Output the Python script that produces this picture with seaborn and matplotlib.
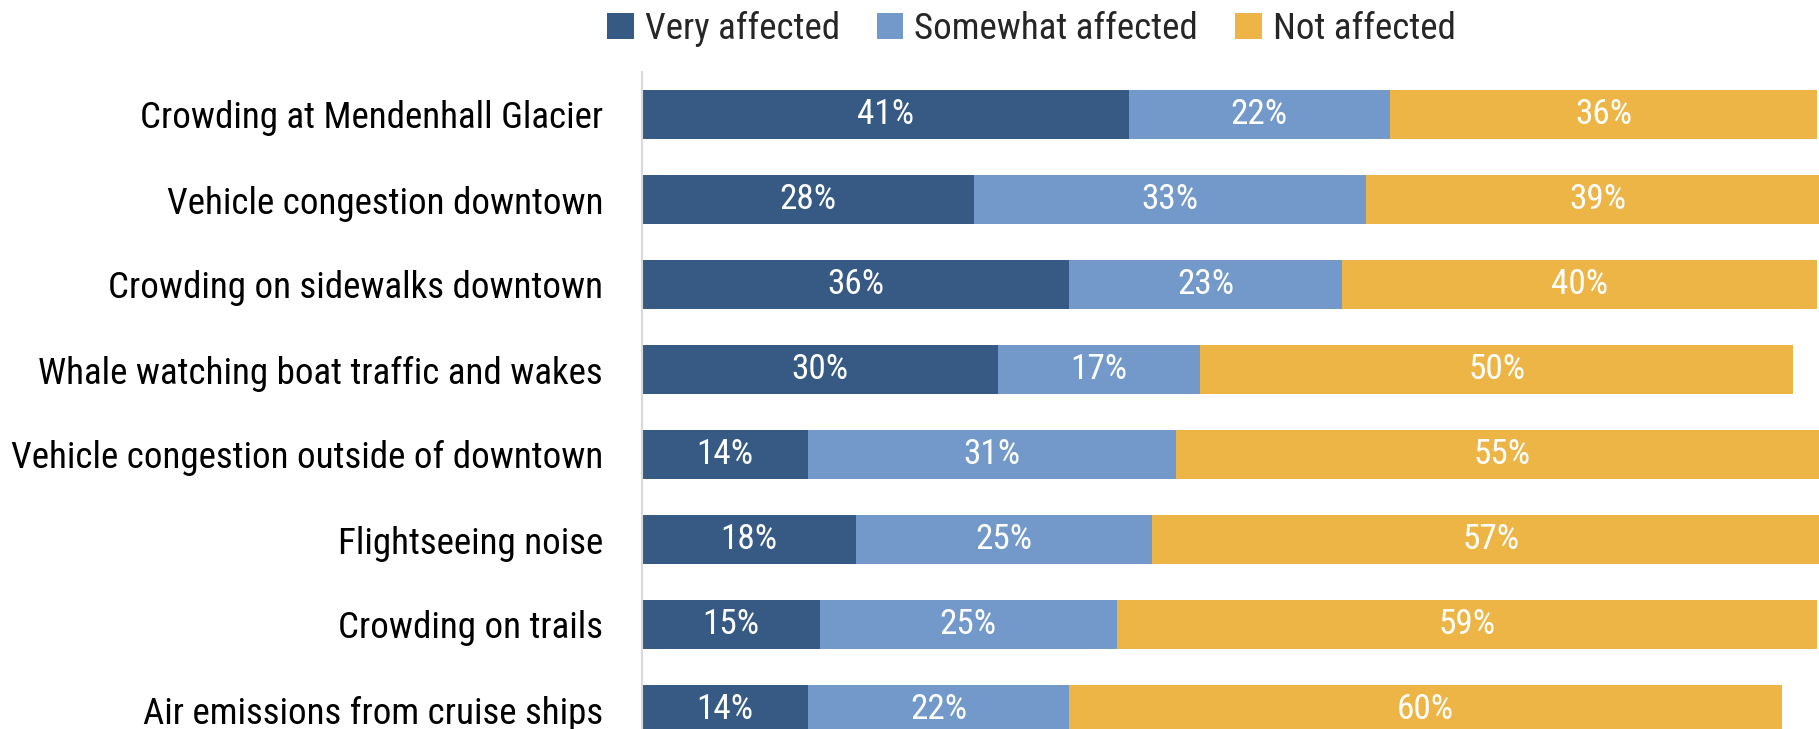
import matplotlib
matplotlib.use("Agg")
import matplotlib.pyplot as plt
from matplotlib import font_manager as fm
from matplotlib.patches import Patch
import seaborn as sns
import pandas as pd
import numpy as np

categories = [
    "Crowding at Mendenhall Glacier",
    "Vehicle congestion downtown",
    "Crowding on sidewalks downtown",
    "Whale watching boat traffic and wakes",
    "Vehicle congestion outside of downtown",
    "Flightseeing noise",
    "Crowding on trails",
    "Air emissions from cruise ships",
]
very_affected = [41, 28, 36, 30, 14, 18, 15, 14]
somewhat_affected = [22, 33, 23, 17, 31, 25, 25, 22]
not_affected = [36, 39, 40, 50, 55, 57, 59, 60]
series_names = ["Very affected", "Somewhat affected", "Not affected"]
colors = ["#375A85", "#7299C9", "#EDB446"]

sns.set_theme(style="white")

# ---- pick a condensed font if one is installed ----
def pick_font():
    prefer = ["Roboto Condensed", "Liberation Sans Narrow", "DejaVu Sans Condensed",
              "Open Sans Condensed", "Noto Sans Condensed", "Lato"]
    entries = fm.fontManager.ttflist
    for name in prefer:
        for f in entries:
            if f.name == name and f.style == "normal" and f.weight in (400, "normal", "regular"):
                return fm.FontProperties(fname=f.fname)
    for f in entries:
        if str(f.stretch) in ("condensed", "semi-condensed", "extra-condensed") and f.style == "normal" \
                and f.weight in (400, "normal", "regular"):
            return fm.FontProperties(fname=f.fname)
    for f in entries:
        if ("Condensed" in f.fname or "Narrow" in f.fname) and "Bold" not in f.fname and "Italic" not in f.fname \
                and "Light" not in f.fname and "Oblique" not in f.fname:
            return fm.FontProperties(fname=f.fname)
    return fm.FontProperties(family="DejaVu Sans")

base_fp = pick_font()

W, H = 1819, 729
fig = plt.figure(figsize=(W / 100, H / 100), dpi=100)
fig.patch.set_facecolor("white")

# adaptive font sizes to match text widths seen in the reference
renderer = fig.canvas.get_renderer()

def width_at(text, size):
    fp = base_fp.copy()
    fp.set_size(size)
    t = fig.text(0, 0, text, fontproperties=fp)
    w = t.get_window_extent(renderer).width
    t.remove()
    return w

tick_size = min(28.0, 28.0 * 591.0 / width_at(categories[4], 28))
label_size = min(27.0, 23.0 * 57.0 / width_at("41%", 23))

tick_fp = base_fp.copy(); tick_fp.set_size(tick_size)
bar_fp = base_fp.copy(); bar_fp.set_size(label_size)

ax_left = 642 / W
ax_width = 100 * 11.87 / W
ax_top = 1 - 72 / H
ax_height = 8 * 85 / H
ax = fig.add_axes([ax_left, ax_top - ax_height, ax_width, ax_height])

df = pd.DataFrame({
    "category": categories,
    "v": very_affected,
    "s": somewhat_affected,
    "n": not_affected,
})
df["c1"] = df["v"]
df["c2"] = df["v"] + df["s"]
df["c3"] = df["v"] + df["s"] + df["n"]

bar_w = 0.565
for col, colr in zip(["c3", "c2", "c1"], colors[::-1]):
    sns.barplot(data=df, x=col, y="category", orient="h", color=colr, width=bar_w,
                saturation=1, ax=ax, order=categories, linewidth=0)

# labels centred in segments
for i, cat in enumerate(categories):
    starts = [0, very_affected[i], very_affected[i] + somewhat_affected[i]]
    vals = [very_affected[i], somewhat_affected[i], not_affected[i]]
    for st, v in zip(starts, vals):
        ax.text(st + v / 2, i, f"{v}%", ha="center", va="center", color="white",
                fontproperties=bar_fp)

ax.set_xlim(0, 100)
ax.set_ylim(7.5, -0.5)
ax.set_xlabel("")
ax.set_ylabel("")
ax.set_xticks([])
ax.tick_params(axis="y", length=0, pad=28)
for t in ax.get_yticklabels():
    t.set_fontproperties(tick_fp)
    t.set_color("black")
for s in ["top", "right", "bottom"]:
    ax.spines[s].set_visible(False)
ax.spines["left"].set_color("#D9D9D9")
ax.spines["left"].set_linewidth(1.5)
ax.set_facecolor("white")

handles = [Patch(facecolor=c, edgecolor="none", label=n) for c, n in zip(colors, series_names)]
fig.legend(handles=handles, loc="center", bbox_to_anchor=(0.567, 0.960), ncol=3, frameon=False,
           prop=tick_fp, handlelength=0.72, handleheight=0.72, handletextpad=0.3,
           columnspacing=1.0, borderaxespad=0)

fig.savefig("out.png", dpi=100, facecolor="white")
